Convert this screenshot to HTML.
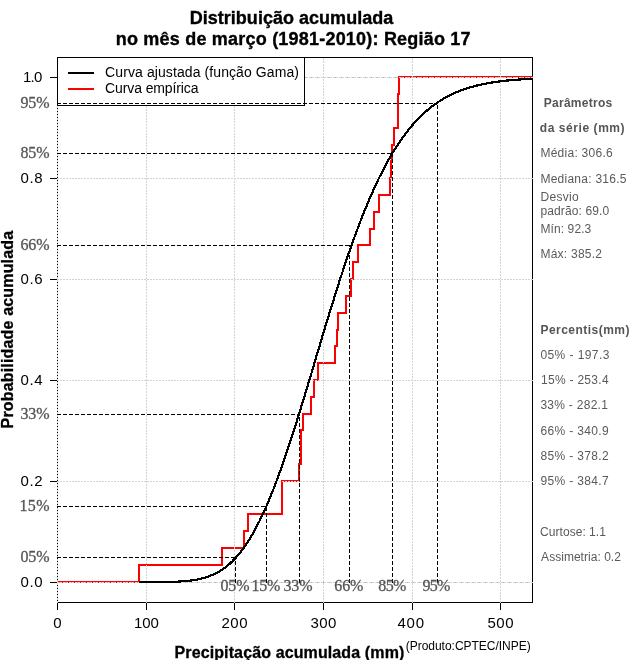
<!DOCTYPE html>
<html><head><meta charset="utf-8"><title>Distribuição acumulada</title>
<style>
html,body{margin:0;padding:0;background:#fff;}
svg{display:block;}
text{font-family:"Liberation Sans",sans-serif;}
.t{font-weight:bold;font-size:18px;fill:#000;stroke:#000;stroke-width:0.35px;}
.ax{font-size:15px;fill:#000;}
.lab{font-weight:bold;font-size:16px;fill:#000;stroke:#000;stroke-width:0.3px;}
.pc{font-family:"Liberation Serif",serif;font-size:16px;fill:#555;stroke:#555;stroke-width:0.3px;}
.s{font-size:12px;fill:#5a5a5a;}
.sb{font-size:12px;fill:#555;font-weight:bold;}
.lg{font-size:14px;fill:#000;}
.pr{font-size:12px;fill:#000;}
</style></head><body>
<svg width="640" height="660" viewBox="0 0 640 660">
<rect x="0" y="0" width="640" height="660" fill="#fff"/>
<g id="gfx">
<g shape-rendering="crispEdges">
<rect x="57.5" y="57.5" width="475" height="545" fill="none" stroke="#000" stroke-width="1"/>
<line x1="57.5" y1="602.5" x2="57.5" y2="610" stroke="#000"/>
<line x1="146.5" y1="602.5" x2="146.5" y2="610" stroke="#000"/>
<line x1="234.5" y1="602.5" x2="234.5" y2="610" stroke="#000"/>
<line x1="323.5" y1="602.5" x2="323.5" y2="610" stroke="#000"/>
<line x1="412.5" y1="602.5" x2="412.5" y2="610" stroke="#000"/>
<line x1="500.5" y1="602.5" x2="500.5" y2="610" stroke="#000"/>
<line x1="50" y1="582.5" x2="57.5" y2="582.5" stroke="#000"/>
<line x1="50" y1="481.5" x2="57.5" y2="481.5" stroke="#000"/>
<line x1="50" y1="380.5" x2="57.5" y2="380.5" stroke="#000"/>
<line x1="50" y1="279.5" x2="57.5" y2="279.5" stroke="#000"/>
<line x1="50" y1="178.5" x2="57.5" y2="178.5" stroke="#000"/>
<line x1="50" y1="77.5" x2="57.5" y2="77.5" stroke="#000"/>
</g>
<path d="M58.0,582.0 L139.0,582.0 L139.0,565.0 L222.0,565.0 L222.0,548.0 L244.0,548.0 L244.0,531.0 L248.0,531.0 L248.0,514.0 L282.0,514.0 L282.0,481.0 L299.0,481.0 L299.0,464.0 L301.0,464.0 L301.0,430.0 L303.0,430.0 L303.0,414.0 L311.0,414.0 L311.0,397.0 L314.0,397.0 L314.0,380.0 L318.0,380.0 L318.0,363.0 L335.0,363.0 L335.0,346.0 L337.0,346.0 L337.0,330.0 L338.0,330.0 L338.0,313.0 L346.0,313.0 L346.0,296.0 L351.0,296.0 L351.0,279.0 L353.0,279.0 L353.0,262.0 L358.0,262.0 L358.0,245.0 L370.0,245.0 L370.0,229.0 L374.0,229.0 L374.0,212.0 L379.0,212.0 L379.0,195.0 L390.0,195.0 L390.0,178.0 L391.0,178.0 L391.0,161.0 L392.0,161.0 L392.0,145.0 L394.0,145.0 L394.0,128.0 L398.0,128.0 L398.0,94.0 L399.0,94.0 L399.0,77.0 L533.0,77.0" fill="none" stroke="#f00" stroke-width="2" stroke-linejoin="miter" stroke-linecap="butt" shape-rendering="crispEdges"/>
<g shape-rendering="crispEdges">
<line x1="58" y1="582.5" x2="532" y2="582.5" stroke="#b3b3b3" stroke-dasharray="4 2"/>
<line x1="58" y1="77.5" x2="532" y2="77.5" stroke="#b3b3b3" stroke-dasharray="4 2"/>
<line x1="57.5" y1="603" x2="57.5" y2="57" stroke="#d3d3d3" stroke-dasharray="2 1"/>
<line x1="146.5" y1="603" x2="146.5" y2="57" stroke="#d3d3d3" stroke-dasharray="2 1"/>
<line x1="234.5" y1="603" x2="234.5" y2="57" stroke="#d3d3d3" stroke-dasharray="2 1"/>
<line x1="323.5" y1="603" x2="323.5" y2="57" stroke="#d3d3d3" stroke-dasharray="2 1"/>
<line x1="412.5" y1="603" x2="412.5" y2="57" stroke="#d3d3d3" stroke-dasharray="2 1"/>
<line x1="500.5" y1="603" x2="500.5" y2="57" stroke="#d3d3d3" stroke-dasharray="2 1"/>
<line x1="57" y1="582.5" x2="533" y2="582.5" stroke="#d3d3d3" stroke-dasharray="2 1"/>
<line x1="57" y1="481.5" x2="533" y2="481.5" stroke="#d3d3d3" stroke-dasharray="2 1"/>
<line x1="57" y1="380.5" x2="533" y2="380.5" stroke="#d3d3d3" stroke-dasharray="2 1"/>
<line x1="57" y1="279.5" x2="533" y2="279.5" stroke="#d3d3d3" stroke-dasharray="2 1"/>
<line x1="57" y1="178.5" x2="533" y2="178.5" stroke="#d3d3d3" stroke-dasharray="2 1"/>
<line x1="57" y1="77.5" x2="533" y2="77.5" stroke="#d3d3d3" stroke-dasharray="2 1"/>
</g>
<path d="M139.0,582.1 L140.3,582.1 L141.6,582.1 L142.9,582.1 L144.3,582.1 L145.6,582.1 L146.9,582.1 L148.2,582.1 L149.5,582.1 L150.8,582.1 L152.2,582.1 L153.5,582.1 L154.8,582.1 L156.1,582.1 L157.4,582.0 L158.8,582.0 L160.1,582.0 L161.4,582.0 L162.7,582.0 L164.0,582.0 L165.3,582.0 L166.7,581.9 L168.0,581.9 L169.3,581.9 L170.6,581.9 L171.9,581.8 L173.2,581.8 L174.6,581.7 L175.9,581.7 L177.2,581.6 L178.5,581.6 L179.8,581.5 L181.1,581.4 L182.5,581.3 L183.8,581.2 L185.1,581.1 L186.4,581.0 L187.7,580.9 L189.0,580.7 L190.4,580.6 L191.7,580.4 L193.0,580.2 L194.3,580.0 L195.6,579.8 L197.0,579.6 L198.3,579.3 L199.6,579.0 L200.9,578.7 L202.2,578.4 L203.5,578.0 L204.9,577.7 L206.2,577.3 L207.5,576.8 L208.8,576.4 L210.1,575.9 L211.4,575.3 L212.8,574.8 L214.1,574.2 L215.4,573.5 L216.7,572.8 L218.0,572.1 L219.3,571.4 L220.7,570.6 L222.0,569.7 L223.3,568.8 L224.6,567.9 L225.9,566.9 L227.3,565.8 L228.6,564.7 L229.9,563.6 L231.2,562.3 L232.5,561.1 L233.8,559.7 L235.2,558.4 L236.5,556.9 L237.8,555.4 L239.1,553.8 L240.4,552.2 L241.7,550.5 L243.1,548.7 L244.4,546.9 L245.7,545.0 L247.0,543.0 L248.3,541.0 L249.6,538.9 L251.0,536.7 L252.3,534.5 L253.6,532.2 L254.9,529.8 L256.2,527.4 L257.5,524.8 L258.9,522.2 L260.2,519.6 L261.5,516.9 L262.8,514.1 L264.1,511.2 L265.5,508.3 L266.8,505.3 L268.1,502.2 L269.4,499.0 L270.7,495.8 L272.0,492.6 L273.4,489.3 L274.7,485.9 L276.0,482.4 L277.3,478.9 L278.6,475.4 L279.9,471.7 L281.3,468.1 L282.6,464.3 L283.9,460.5 L285.2,456.7 L286.5,452.8 L287.8,448.9 L289.2,444.9 L290.5,440.9 L291.8,436.9 L293.1,432.8 L294.4,428.7 L295.8,424.5 L297.1,420.3 L298.4,416.1 L299.7,411.8 L301.0,407.5 L302.3,403.2 L303.7,398.9 L305.0,394.6 L306.3,390.2 L307.6,385.8 L308.9,381.5 L310.2,377.1 L311.6,372.7 L312.9,368.3 L314.2,363.8 L315.5,359.4 L316.8,355.0 L318.1,350.6 L319.5,346.2 L320.8,341.8 L322.1,337.4 L323.4,333.0 L324.7,328.6 L326.0,324.3 L327.4,320.0 L328.7,315.6 L330.0,311.3 L331.3,307.1 L332.6,302.8 L334.0,298.6 L335.3,294.4 L336.6,290.2 L337.9,286.1 L339.2,282.0 L340.5,277.9 L341.9,273.9 L343.2,269.9 L344.5,265.9 L345.8,262.0 L347.1,258.1 L348.4,254.2 L349.8,250.4 L351.1,246.7 L352.4,242.9 L353.7,239.3 L355.0,235.6 L356.3,232.0 L357.7,228.5 L359.0,225.0 L360.3,221.6 L361.6,218.2 L362.9,214.8 L364.3,211.5 L365.6,208.3 L366.9,205.1 L368.2,201.9 L369.5,198.8 L370.8,195.8 L372.2,192.8 L373.5,189.9 L374.8,187.0 L376.1,184.1 L377.4,181.3 L378.7,178.6 L380.1,175.9 L381.4,173.3 L382.7,170.7 L384.0,168.2 L385.3,165.7 L386.6,163.2 L388.0,160.9 L389.3,158.5 L390.6,156.2 L391.9,154.0 L393.2,151.8 L394.5,149.7 L395.9,147.6 L397.2,145.5 L398.5,143.5 L399.8,141.6 L401.1,139.7 L402.5,137.8 L403.8,136.0 L405.1,134.2 L406.4,132.5 L407.7,130.8 L409.0,129.1 L410.4,127.5 L411.7,126.0 L413.0,124.4 L414.3,122.9 L415.6,121.5 L416.9,120.1 L418.3,118.7 L419.6,117.4 L420.9,116.1 L422.2,114.8 L423.5,113.6 L424.8,112.4 L426.2,111.2 L427.5,110.1 L428.8,109.0 L430.1,107.9 L431.4,106.9 L432.7,105.9 L434.1,104.9 L435.4,104.0 L436.7,103.0 L438.0,102.2 L439.3,101.3 L440.7,100.5 L442.0,99.6 L443.3,98.9 L444.6,98.1 L445.9,97.4 L447.2,96.6 L448.6,95.9 L449.9,95.3 L451.2,94.6 L452.5,94.0 L453.8,93.4 L455.1,92.8 L456.5,92.2 L457.8,91.7 L459.1,91.2 L460.4,90.6 L461.7,90.1 L463.0,89.7 L464.4,89.2 L465.7,88.8 L467.0,88.3 L468.3,87.9 L469.6,87.5 L471.0,87.1 L472.3,86.7 L473.6,86.4 L474.9,86.0 L476.2,85.7 L477.5,85.4 L478.9,85.1 L480.2,84.8 L481.5,84.5 L482.8,84.2 L484.1,83.9 L485.4,83.7 L486.8,83.4 L488.1,83.2 L489.4,82.9 L490.7,82.7 L492.0,82.5 L493.3,82.3 L494.7,82.1 L496.0,81.9 L497.3,81.7 L498.6,81.5 L499.9,81.4 L501.2,81.2 L502.6,81.1 L503.9,80.9 L505.2,80.8 L506.5,80.6 L507.8,80.5 L509.2,80.4 L510.5,80.2 L511.8,80.1 L513.1,80.0 L514.4,79.9 L515.7,79.8 L517.1,79.7 L518.4,79.6 L519.7,79.5 L521.0,79.4 L522.3,79.3 L523.6,79.2 L525.0,79.2 L526.3,79.1 L527.6,79.0 L528.9,79.0 L530.2,78.9 L531.5,78.8 L532.9,78.8" fill="none" stroke="#000" stroke-width="2.2" stroke-linejoin="round" shape-rendering="crispEdges"/>
<g shape-rendering="crispEdges"><rect x="57.5" y="57.5" width="247" height="48" fill="#fff" stroke="#000"/>
<line x1="68" y1="73" x2="94" y2="73" stroke="#000" stroke-width="2"/>
<line x1="68" y1="89" x2="94" y2="89" stroke="#f00" stroke-width="2"/>
<line x1="57" y1="557.5" x2="235.5" y2="557.5" stroke="#000" stroke-dasharray="4 2"/>
<line x1="235.5" y1="583" x2="235.5" y2="557.0" stroke="#000" stroke-dasharray="4 2"/>
<line x1="57" y1="506.5" x2="266.5" y2="506.5" stroke="#000" stroke-dasharray="4 2"/>
<line x1="266.5" y1="583" x2="266.5" y2="506.0" stroke="#000" stroke-dasharray="4 2"/>
<line x1="57" y1="414.5" x2="299.5" y2="414.5" stroke="#000" stroke-dasharray="4 2"/>
<line x1="299.5" y1="583" x2="299.5" y2="414.0" stroke="#000" stroke-dasharray="4 2"/>
<line x1="57" y1="245.5" x2="349.5" y2="245.5" stroke="#000" stroke-dasharray="4 2"/>
<line x1="349.5" y1="583" x2="349.5" y2="245.0" stroke="#000" stroke-dasharray="4 2"/>
<line x1="57" y1="153.5" x2="392.5" y2="153.5" stroke="#000" stroke-dasharray="4 2"/>
<line x1="392.5" y1="583" x2="392.5" y2="153.0" stroke="#000" stroke-dasharray="4 2"/>
<line x1="57" y1="103.5" x2="437.5" y2="103.5" stroke="#000" stroke-dasharray="4 2"/>
<line x1="437.5" y1="583" x2="437.5" y2="103.0" stroke="#000" stroke-dasharray="4 2"/>
</g>
</g>
<text id="t0" class="t" x="189.70" y="24.0" textLength="203.55" lengthAdjust="spacing">Distribuição acumulada</text>
<text id="t1" class="t" x="115.75" y="45.3" textLength="354.85" lengthAdjust="spacing">no mês de março (1981-2010): Região 17</text>
<text id="t2" class="lg" x="105.10" y="77.4" textLength="193.90" lengthAdjust="spacing">Curva ajustada (função Gama)</text>
<text id="t3" class="lg" x="105.10" y="93.4" textLength="93.40" lengthAdjust="spacing">Curva empírica</text>
<text id="t4" class="ax" x="53.20" y="628.0">0</text>
<text id="t5" class="ax" x="134.00" y="628.0" textLength="24.75" lengthAdjust="spacing">100</text>
<text id="t6" class="ax" x="221.50" y="628.0" textLength="26.00" lengthAdjust="spacing">200</text>
<text id="t7" class="ax" x="310.40" y="628.0" textLength="26.00" lengthAdjust="spacing">300</text>
<text id="t8" class="ax" x="397.50" y="628.0" textLength="26.50" lengthAdjust="spacing">400</text>
<text id="t9" class="ax" x="487.40" y="628.0" textLength="26.20" lengthAdjust="spacing">500</text>
<text id="t10" class="ax" x="20.60" y="586.7" textLength="22.10" lengthAdjust="spacing">0.0</text>
<text id="t11" class="ax" x="20.60" y="485.8" textLength="22.10" lengthAdjust="spacing">0.2</text>
<text id="t12" class="ax" x="20.60" y="384.9" textLength="22.10" lengthAdjust="spacing">0.4</text>
<text id="t13" class="ax" x="20.60" y="283.9" textLength="22.10" lengthAdjust="spacing">0.6</text>
<text id="t14" class="ax" x="20.60" y="183.0" textLength="22.10" lengthAdjust="spacing">0.8</text>
<text id="t15" class="ax" x="23.10" y="82.1" textLength="19.20" lengthAdjust="spacing">1.0</text>
<text id="t16" class="pc" x="20.40" y="562.1" textLength="29.10" lengthAdjust="spacing">05%</text>
<text id="t17" class="pc" x="220.50" y="591.2" textLength="29.00" lengthAdjust="spacing">05%</text>
<text id="t18" class="pc" x="19.40" y="511.1" textLength="30.10" lengthAdjust="spacing">15%</text>
<text id="t19" class="pc" x="251.40" y="591.2" textLength="29.00" lengthAdjust="spacing">15%</text>
<text id="t20" class="pc" x="20.40" y="419.1" textLength="29.10" lengthAdjust="spacing">33%</text>
<text id="t21" class="pc" x="283.50" y="591.2" textLength="29.00" lengthAdjust="spacing">33%</text>
<text id="t22" class="pc" x="20.40" y="250.1" textLength="29.10" lengthAdjust="spacing">66%</text>
<text id="t23" class="pc" x="334.30" y="591.2" textLength="29.00" lengthAdjust="spacing">66%</text>
<text id="t24" class="pc" x="20.40" y="158.1" textLength="29.10" lengthAdjust="spacing">85%</text>
<text id="t25" class="pc" x="378.30" y="591.2" textLength="28.00" lengthAdjust="spacing">85%</text>
<text id="t26" class="pc" x="20.40" y="108.1" textLength="29.10" lengthAdjust="spacing">95%</text>
<text id="t27" class="pc" x="422.40" y="591.2" textLength="28.00" lengthAdjust="spacing">95%</text>
<text id="t28" class="lab" x="174.50" y="657.5" textLength="229.80" lengthAdjust="spacing">Precipitação acumulada (mm)</text>
<text id="t29" class="pr" x="405.70" y="649.7" textLength="125.00" lengthAdjust="spacing">(Produto:CPTEC/INPE)</text>
<text id="t30" class="sb" x="543.80" y="107.0" textLength="68.40" lengthAdjust="spacing">Parâmetros</text>
<text id="t31" class="sb" x="539.80" y="132.0" textLength="84.80" lengthAdjust="spacing">da série (mm)</text>
<text id="t32" class="s" x="540.40" y="156.8" textLength="72.30" lengthAdjust="spacing">Média: 306.6</text>
<text id="t33" class="s" x="540.40" y="182.6" textLength="86.10" lengthAdjust="spacing">Mediana: 316.5</text>
<text id="t34" class="s" x="540.40" y="200.9" textLength="38.30" lengthAdjust="spacing">Desvio</text>
<text id="t35" class="s" x="540.40" y="214.6" textLength="68.80" lengthAdjust="spacing">padrão: 69.0</text>
<text id="t36" class="s" x="540.40" y="232.9" textLength="50.90" lengthAdjust="spacing">Mín: 92.3</text>
<text id="t37" class="s" x="540.40" y="257.7" textLength="61.60" lengthAdjust="spacing">Máx: 385.2</text>
<text id="t38" class="sb" x="540.40" y="334.1" textLength="89.10" lengthAdjust="spacing">Percentis(mm)</text>
<text id="t39" class="s" x="540.40" y="359.1" textLength="69.00" lengthAdjust="spacing">05% - 197.3</text>
<text id="t40" class="s" x="541.00" y="384.1" textLength="67.60" lengthAdjust="spacing">15% - 253.4</text>
<text id="t41" class="s" x="540.40" y="409.4" textLength="67.50" lengthAdjust="spacing">33% - 282.1</text>
<text id="t42" class="s" x="540.40" y="434.6" textLength="68.30" lengthAdjust="spacing">66% - 340.9</text>
<text id="t43" class="s" x="540.40" y="460.0" textLength="68.30" lengthAdjust="spacing">85% - 378.2</text>
<text id="t44" class="s" x="540.40" y="485.1" textLength="68.30" lengthAdjust="spacing">95% - 384.7</text>
<text id="t45" class="s" x="540.10" y="536.0" textLength="65.80" lengthAdjust="spacing">Curtose: 1.1</text>
<text id="t46" class="s" x="541.10" y="561.2" textLength="79.80" lengthAdjust="spacing">Assimetria: 0.2</text>
<text id="ty" class="lab" transform="translate(13.2,428.4) rotate(-90)" textLength="197.5" lengthAdjust="spacing">Probabilidade acumulada</text>
</svg></body></html>
